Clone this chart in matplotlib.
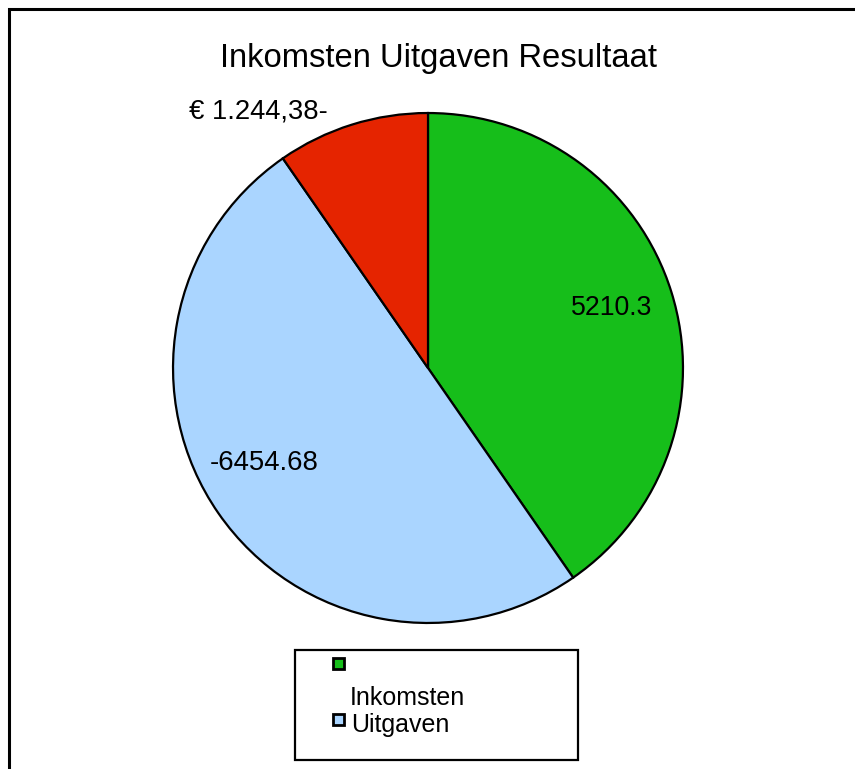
import matplotlib
matplotlib.use("Agg")
import matplotlib.pyplot as plt
from matplotlib.patches import Rectangle
import numpy as np

# ---- data ----
categories = ["Inkomsten", "Uitgaven", "Resultaat"]
values = [5210.3, -6454.68, -1244.38]
value_labels = ["5210.3", "-6454.68", "€ 1.244,38-"]
colors = ["#16BE1A", "#AAD5FF", "#E52400"]
legend_categories = ["Inkomsten", "Uitgaven"]
title = "Inkomsten Uitgaven Resultaat"

plt.rcParams['font.family'] = ['Liberation Sans', 'DejaVu Sans']

W, H = 855, 769
fig = plt.figure(figsize=(W / 100, H / 100), dpi=100)

def fx(px):
    return px / W

def fy(py):
    return 1 - py / H

# pie axes, positioned in pixels
cx, cy, r = 428, 368, 256
ax = fig.add_axes([fx(cx - r), fy(cy + r), 2 * r / W, 2 * r / H])
sizes = np.abs(values)
ax.pie(sizes, colors=colors, startangle=90, counterclock=False, radius=0.996,
       wedgeprops=dict(edgecolor='black', linewidth=1.6))
ax.set_xlim(-1, 1)
ax.set_ylim(-1, 1)
ax.axis('off')

# value labels (layout positions in pixels: center x, baseline y)
label_pos = [(612, 315), (264, 470), (258, 118)]
label_sizes = [19.2, 19.8, 19.7]
for txt, (px, py), fs in zip(value_labels, label_pos, label_sizes):
    ax.text((px - cx) / r, (cy - py) / r, txt, ha='center', va='baseline',
            fontsize=fs, color='black')

# title
fig.text(fx(438.5), fy(67), title, ha='center', va='baseline', fontsize=23.6)

# outer frame (right and bottom edges are off-canvas)
fig.add_artist(Rectangle((fx(8.5), -0.1), 1.2, fy(8.5) + 0.1,
                         transform=fig.transFigure, fill=False,
                         edgecolor='black', linewidth=2.2))

# legend box
fig.add_artist(Rectangle((fx(295), fy(760)), (578 - 295) / W, (760 - 650) / H,
                         transform=fig.transFigure, fill=False,
                         edgecolor='black', linewidth=1.6))
sq_pos = [(338.5, 663.5), (338.5, 719.5)]
txt_pos = [(350, 705), (351, 732)]
sq = 11.5
for name, col, (sx, sy), (tx, ty) in zip(legend_categories, colors, sq_pos, txt_pos):
    fig.add_artist(Rectangle((fx(sx - sq / 2), fy(sy + sq / 2)), sq / W, sq / H,
                             transform=fig.transFigure, facecolor=col,
                             edgecolor='black', linewidth=2.0))
    fig.text(fx(tx), fy(ty), name, ha='left', va='baseline', fontsize=18)

fig.savefig("out.png", dpi=100, facecolor='white')
